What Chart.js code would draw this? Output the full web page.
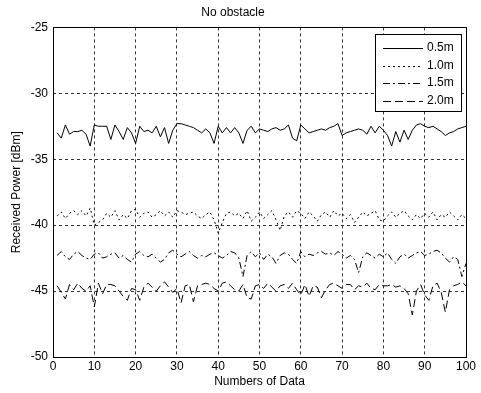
<!DOCTYPE html>
<html>
<head>
<meta charset="utf-8">
<script src="https://cdn.jsdelivr.net/npm/chart.js@4.4.0/dist/chart.umd.min.js"></script>
<style>
  html, body { margin: 0; padding: 0; background: #fff; }
  #wrap { width: 481px; height: 393px; }
</style>
</head>
<body>
<div id="wrap"><canvas id="myChart" width="481" height="393"></canvas></div>
<script>
// datos (x = 1..100)
var seriesNames = ['0.5m', '1.0m', '1.5m', '2.0m'];
var xTicks = [0, 10, 20, 30, 40, 50, 60, 70, 80, 90, 100];
var yTicks = [-25, -30, -35, -40, -45, -50];

var p05 = [-33.0, -33.4, -32.4, -33.1, -32.9, -32.9, -32.8, -33.1, -34.0, -32.4,
  -32.5, -32.5, -32.5, -33.5, -32.4, -32.9, -33.5, -32.6, -33.0, -33.8,
  -32.5, -32.9, -32.8, -33.0, -32.5, -33.3, -32.6, -33.8, -32.8, -32.3,
  -32.3, -32.4, -32.5, -32.6, -32.8, -33.0, -32.7, -33.0, -33.8, -32.5,
  -33.0, -32.6, -33.0, -32.6, -33.0, -33.8, -32.8, -32.5, -33.0, -32.7,
  -32.8, -32.9, -32.7, -32.6, -32.8, -32.7, -32.4, -33.4, -33.6, -32.4,
  -32.7, -33.0, -32.9, -32.8, -32.7, -32.8, -32.6, -32.5, -32.3, -33.2,
  -33.0, -32.9, -32.8, -32.7, -32.8, -33.1, -32.5, -33.0, -32.5, -32.8,
  -33.2, -34.0, -32.9, -33.7, -32.8, -33.5, -32.8, -32.4, -32.3, -32.5,
  -32.6, -32.5, -32.7, -32.9, -33.2, -33.0, -32.9, -32.7, -32.6, -32.5];

var p10 = [-39.3, -39.0, -39.5, -39.1, -38.9, -39.2, -38.9, -39.3, -38.7, -40.0,
  -39.8, -39.6, -39.1, -39.4, -38.9, -39.6, -39.2, -39.5, -38.9, -38.8,
  -39.4, -39.1, -39.0, -39.4, -39.2, -38.9, -39.3, -39.0, -39.4, -38.9,
  -39.0, -39.2, -39.1, -39.0, -39.3, -39.5, -39.2, -39.0, -39.6, -40.6,
  -39.8, -39.1, -39.0, -39.3, -39.1, -39.5, -38.9, -39.7, -39.4, -39.0,
  -39.5, -39.2, -38.9, -39.6, -40.4, -39.3, -39.0, -39.4, -38.9, -39.1,
  -39.5, -39.0, -39.3, -39.7, -39.2, -39.0, -39.4, -38.9, -39.3, -39.1,
  -39.5, -39.2, -39.8, -39.4, -39.0, -39.3, -39.1, -38.9, -39.6, -39.7,
  -39.3, -39.0, -39.4, -39.1, -38.9, -39.3, -39.6, -39.2, -39.5, -39.1,
  -39.4, -39.0, -39.6, -39.2, -39.4, -39.0, -39.3, -39.6, -39.2, -39.5];

var p15 = [-42.3, -42.0, -42.4, -42.6, -42.2, -42.0, -42.3, -42.5, -42.6, -42.2,
  -42.1, -42.5, -42.4, -42.2, -42.1, -42.5, -42.3, -42.6, -42.8, -42.2,
  -42.0, -42.3, -42.4, -42.2, -42.5, -42.8, -42.6, -42.1, -41.9, -42.2,
  -42.4, -42.2, -42.0, -42.3, -42.5, -42.3, -42.4, -42.2, -42.1, -42.3,
  -42.5, -42.3, -42.0, -42.1, -42.5, -43.9, -42.3, -42.0, -42.4, -42.1,
  -42.6, -42.2, -42.4, -42.9, -42.3, -42.1, -42.2, -42.6, -42.9, -42.0,
  -42.4, -42.2, -42.3, -42.1, -42.0, -42.2, -42.1, -42.3, -42.0, -42.2,
  -42.5, -42.3, -42.6, -43.6, -42.4, -42.1, -42.3, -42.5, -42.2, -42.4,
  -42.1, -42.6, -42.9, -42.4, -42.2, -42.5, -42.3, -42.1, -42.0, -42.3,
  -42.2, -42.0, -41.9, -42.1, -42.5, -42.8, -42.4, -42.6, -43.9, -42.9];

var p20 = [-44.6, -45.1, -45.6, -44.5, -44.9, -44.4, -44.8, -45.0, -44.6, -46.2,
  -44.4, -45.2, -44.5, -44.5, -44.6, -45.0, -45.4, -45.7, -44.8, -44.9,
  -45.7, -44.7, -44.4, -44.7, -45.0, -44.6, -44.3, -44.7, -45.1, -44.8,
  -45.9, -44.6, -44.5, -45.8, -44.6, -44.5, -44.4, -44.5, -44.8, -45.0,
  -44.4, -44.3, -44.6, -44.9, -45.0, -44.5, -45.5, -45.6, -44.6, -44.5,
  -44.8, -44.4, -44.7, -45.0, -44.6, -44.5, -44.8, -44.4, -44.9, -45.3,
  -44.5, -45.4, -44.6, -44.7, -45.5, -44.9, -44.5, -44.4, -44.6, -44.8,
  -44.5, -44.5, -44.9, -44.6, -44.7, -44.4, -44.8, -44.9, -44.5, -44.6,
  -44.6, -44.5, -44.7, -44.6, -44.8, -45.2, -46.8, -45.0, -44.5, -45.3,
  -45.7, -44.6, -44.4, -45.1, -46.6, -44.9, -44.6, -44.5, -44.3, -44.6];

var xValues = [];
for (var i = 1; i <= p05.length; i++) xValues.push(i);

var FONT = 'Liberation Sans, Arial, sans-serif';
var dashes = [[], [2, 3], [7, 3, 2, 3], [8, 4]];
var allSeries = [p05, p10, p15, p20];

var datasets = allSeries.map(function (s, k) {
  return {
    label: seriesNames[k],
    data: s.map(function (v, j) { return { x: xValues[j], y: v }; }),
    borderColor: '#000',
    borderWidth: 1,
    borderDash: dashes[k],
    pointRadius: 0,
    tension: 0,
    fill: false
  };
});

// marco y leyenda dentro del area
var boxPlugin = {
  id: 'boxPlugin',
  afterDatasetsDraw: function (chart) {
    var ctx = chart.ctx;
    var a = chart.chartArea;
    ctx.save();
    ctx.strokeStyle = '#000';
    ctx.lineWidth = 1;
    ctx.setLineDash([]);
    ctx.strokeRect(Math.round(a.left) + 0.5, Math.round(a.top) + 0.5,
      Math.round(a.right - a.left), Math.round(a.bottom - a.top));

    var lx = 375, ly = 34, lw = 86, lh = 77;
    ctx.fillStyle = '#fff';
    ctx.fillRect(lx, ly, lw, lh);
    ctx.strokeRect(lx + 0.5, ly + 0.5, lw, lh);
    ctx.font = '12px ' + FONT;
    ctx.textBaseline = 'middle';
    ctx.fillStyle = '#000';
    chart.data.datasets.forEach(function (d, k) {
      var yy = ly + 14 + k * 17.5;
      ctx.beginPath();
      ctx.setLineDash(d.borderDash);
      ctx.moveTo(383, Math.round(yy) + 0.5);
      ctx.lineTo(423, Math.round(yy) + 0.5);
      ctx.stroke();
      ctx.setLineDash([]);
      ctx.fillText(d.label, 427, yy);
    });
    ctx.restore();
  }
};

var ctx = document.getElementById('myChart').getContext('2d');
var myChart = new Chart(ctx, {
  type: 'line',
  data: { datasets: datasets },
  plugins: [boxPlugin],
  options: {
    responsive: false,
    animation: false,
    layout: { padding: { left: 0, right: 15, top: 0, bottom: 0 } },
    plugins: {
      legend: { display: false },
      tooltip: { enabled: false },
      title: {
        display: true,
        text: 'No obstacle',
        color: '#000',
        font: { family: FONT, size: 12, weight: 'normal' },
        padding: { top: 5, bottom: 8 }
      }
    },
    scales: {
      x: {
        type: 'linear',
        min: 0,
        max: 100,
        afterBuildTicks: function (scale) {
          scale.ticks = xTicks.map(function (v) { return { value: v }; });
        },
        afterFit: function (scale) { scale.height = 36; },
        ticks: { color: '#000', font: { family: FONT, size: 12 }, padding: 2, maxRotation: 0 },
        grid: { color: '#333', lineWidth: 1, drawTicks: false },
        border: { display: false, dash: [3, 3] },
        title: {
          display: true,
          text: 'Numbers of Data',
          color: '#000',
          font: { family: FONT, size: 12 },
          padding: { top: 0, bottom: 4 }
        }
      },
      y: {
        type: 'linear',
        min: -50,
        max: -25,
        afterBuildTicks: function (scale) {
          scale.ticks = yTicks.map(function (v) { return { value: v }; });
        },
        afterFit: function (scale) { scale.width = 53; },
        ticks: { color: '#000', font: { family: FONT, size: 12 }, padding: 5 },
        grid: { color: '#333', lineWidth: 1, drawTicks: false },
        border: { display: false, dash: [3, 3] },
        title: {
          display: true,
          text: 'Received Power [dBm]',
          color: '#000',
          font: { family: FONT, size: 12 },
          padding: { top: 9, bottom: 0 }
        }
      }
    }
  }
});
</script>
</body>
</html>
